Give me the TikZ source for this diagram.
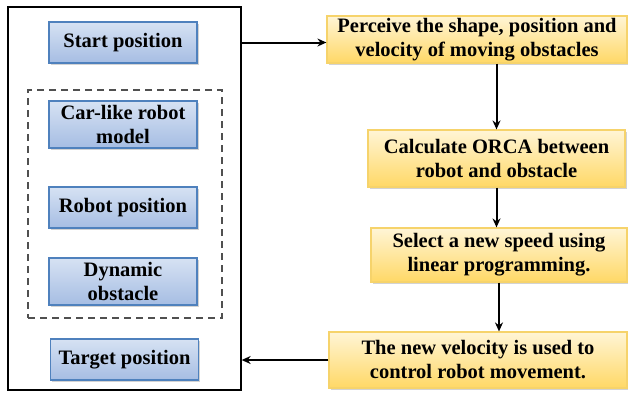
\documentclass[tikz,border=0pt]{standalone}
\usepackage{fontspec}
\setmainfont{Liberation Serif}
\usetikzlibrary{calc,arrows.meta,shadows}
\definecolor{bluetop}{HTML}{D6E2F3}
\definecolor{bluebot}{HTML}{A6BDE3}
\definecolor{blueedge}{HTML}{4F81BD}
\definecolor{yeltop}{HTML}{FFF5D6}
\definecolor{yelbot}{HTML}{FFD866}
\definecolor{yeledge}{HTML}{F6D36B}
\definecolor{dashgray}{HTML}{505050}

\begin{document}
\begin{tikzpicture}[x=1pt, y=-1pt, >={Stealth[length=9pt,width=8pt]}, line width=1.4pt,
    font=\bfseries\fontsize{20.5}{24}\selectfont,
    inbox/.style={draw=blueedge, line width=1.5pt, top color=bluetop, bottom color=bluebot,
      align=center, inner sep=0pt, minimum width=148pt,
      drop shadow={shadow xshift=1.5pt, shadow yshift=-1.5pt, opacity=0.35}},
    stepbox/.style={draw=yeledge, line width=1.2pt, top color=yeltop, bottom color=yelbot,
      align=center, inner sep=0pt,
      drop shadow={shadow xshift=1.5pt, shadow yshift=-1.5pt, opacity=0.35}},
    flow/.style={->, black, line width=2pt}]
  % page: 628 x 392, y runs downward
  \useasboundingbox (0,0) rectangle (628,392);

  % left panel and the dashed group inside it
  \node[draw, line width=1.3pt, minimum width=233pt, minimum height=383pt] (panel) at (124.5,198.5) {};
  \node[draw=dashgray, dashed, dash pattern=on 7pt off 5pt, line width=1.4pt,
        minimum width=194pt, minimum height=228pt] (group) at (125,204) {};

  % inputs
  \node[inbox, minimum height=41pt] (start)  at (123,42.5)  {Start position};
  \node[inbox, minimum height=47pt] (car)    at (123,124.5) {Car-like robot\\model};
  \node[inbox, minimum height=41pt] (robot)  at (123,207.5) {Robot position};
  \node[inbox, minimum height=47pt] (dyn)    at (123,281.5) {Dynamic\\obstacle};
  \node[inbox, minimum height=41pt] (target) at (124.5,359.5) {Target position};

  % ORCA steps
  \node[stepbox, minimum width=300pt, minimum height=47pt] (perceive) at (477,39.5)
    {Perceive the shape, position and\\velocity of moving obstacles};
  \node[stepbox, minimum width=257pt, minimum height=57pt] (orca) at (496.5,158.5)
    {Calculate ORCA between\\robot and obstacle};
  \node[stepbox, minimum width=256pt, minimum height=54pt] (select) at (499,255)
    {Select a new speed using\\linear programming.};
  \node[stepbox, minimum width=298pt, minimum height=56pt] (newvel) at (478,360)
    {The new velocity is used to\\control robot movement.};

  % connectors
  \draw[flow] (panel.east |- start.east) -- (perceive.west |- start.east);
  \draw[flow] (perceive.south -| orca.north) -- (orca.north);
  \draw[flow] (orca.south) -- (orca.south |- select.north);
  \draw[flow] (select.south) -- (select.south |- newvel.north);
  \draw[flow] (newvel.west) -- (panel.east |- newvel.west);
\end{tikzpicture}
\end{document}
